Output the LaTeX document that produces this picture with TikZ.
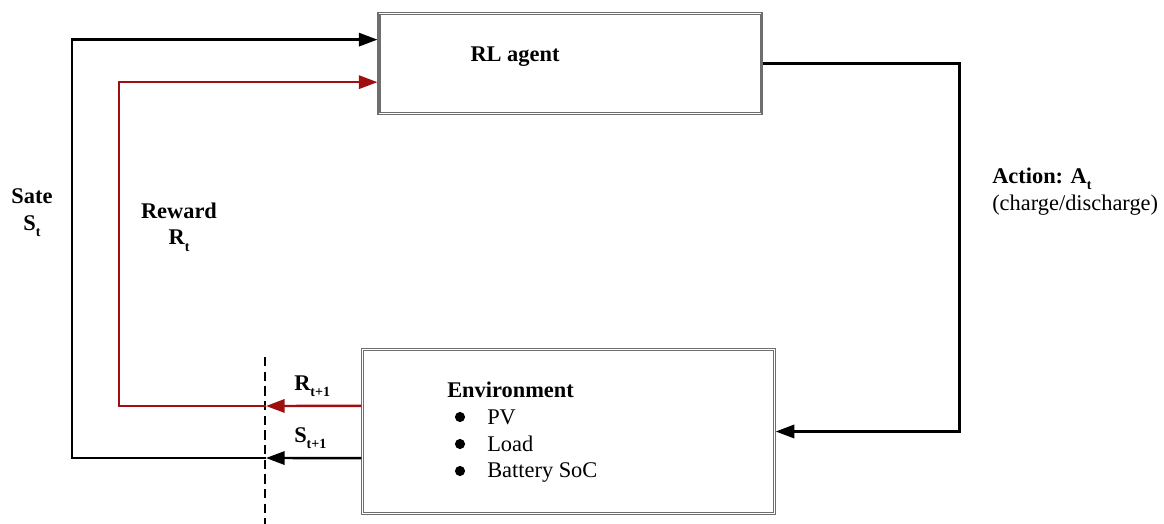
\documentclass[tikz,border=0pt]{standalone}
\usepackage{fontspec}
\setmainfont{Liberation Serif}
\usetikzlibrary{arrows.meta, positioning, calc}
\definecolor{rewardred}{HTML}{A00F0F}
\definecolor{boxgray}{HTML}{6E6E6E}
\newcommand{\lowsub}[1]{\raisebox{-0.6ex}{\fontsize{10.5}{10.5}\selectfont\bfseries #1}}

\begin{document}
\begin{tikzpicture}[
      x=0.75pt, y=-0.75pt,
      font=\fontsize{16.8}{20}\selectfont,
      block/.style={draw=boxgray, line width=0.8pt, inner sep=0pt},
      inner/.style={draw=boxgray, line width=0.8pt},
      flow/.style={line width=1.8pt, -{Triangle[length=14pt, width=10pt]}},
      label/.style={inner sep=0pt, align=left},
      >=Latex
    ]
      \useasboundingbox (0,0) rectangle (1164,524);
      % boxes
      \node[block, minimum width=288pt, minimum height=77pt] (agent) at (570,63.5) {};
      \draw[inner] ([shift={(2.5,2.5)}]agent.north west) rectangle ([shift={(-2.5,-2.5)}]agent.south east);
      \node[font=\fontsize{16.8}{20}\selectfont\bfseries] (agenttext) at (515,57) {RL agent};
      \node[block, minimum width=310pt, minimum height=125pt] (env) at (568.5,431.5) {};
      \draw[inner] ([shift={(2.5,2.5)}]env.north west) rectangle ([shift={(-2.5,-2.5)}]env.south east);
      \node[label, anchor=north west] (envtext) at (447,382)
        {\textbf{Environment}\\
         \hspace*{30pt}PV\\
         \hspace*{30pt}Load\\
         \hspace*{30pt}Battery SoC};
      \foreach \y in {417,444,471}
        \fill (460,\y) circle (3.8pt);
      % cut line
      \draw[line width=2pt, dash pattern=on 7pt off 4pt] (265,357) -- (265,524);
      \coordinate (rcut) at (266,406);
      \coordinate (scut) at (266,458);
      % action
      \draw[flow] (agent.east) -- ++(197,0) |- (env.east);
      % reward
      \draw[flow, rewardred] ($(env.north west)!0.347!(env.south west)$) -- (rcut);
      \draw[flow, rewardred] (rcut) -- (119,406)
        |- ($(agent.north west)!0.68!(agent.south west)$);
      % state
      \draw[flow] ($(env.north west)!0.659!(env.south west)$) -- (scut);
      \draw[flow] (scut) -- (72,458)
        |- ($(agent.north west)!0.27!(agent.south west)$);
      % labels
      \node[label, align=center, font=\fontsize{16.8}{20}\selectfont\bfseries] (sate) at (32,213)
        {Sate\\S\lowsub{t}};
      \node[label, align=center, font=\fontsize{16.8}{20}\selectfont\bfseries] (reward) at (179,227)
        {Reward\\R\lowsub{t}};
      \node[label, anchor=north west] (action) at (992,168)
        {\textbf{Action: A}\lowsub{t}\\(charge/discharge)};
      \node[label, anchor=base west, font=\fontsize{16.8}{20}\selectfont\bfseries] (rnext) at (294,390)
        {R\lowsub{t+1}};
      \node[label, anchor=base west, font=\fontsize{16.8}{20}\selectfont\bfseries] (snext) at (294,442)
        {S\lowsub{t+1}};
    \end{tikzpicture}
\end{document}
